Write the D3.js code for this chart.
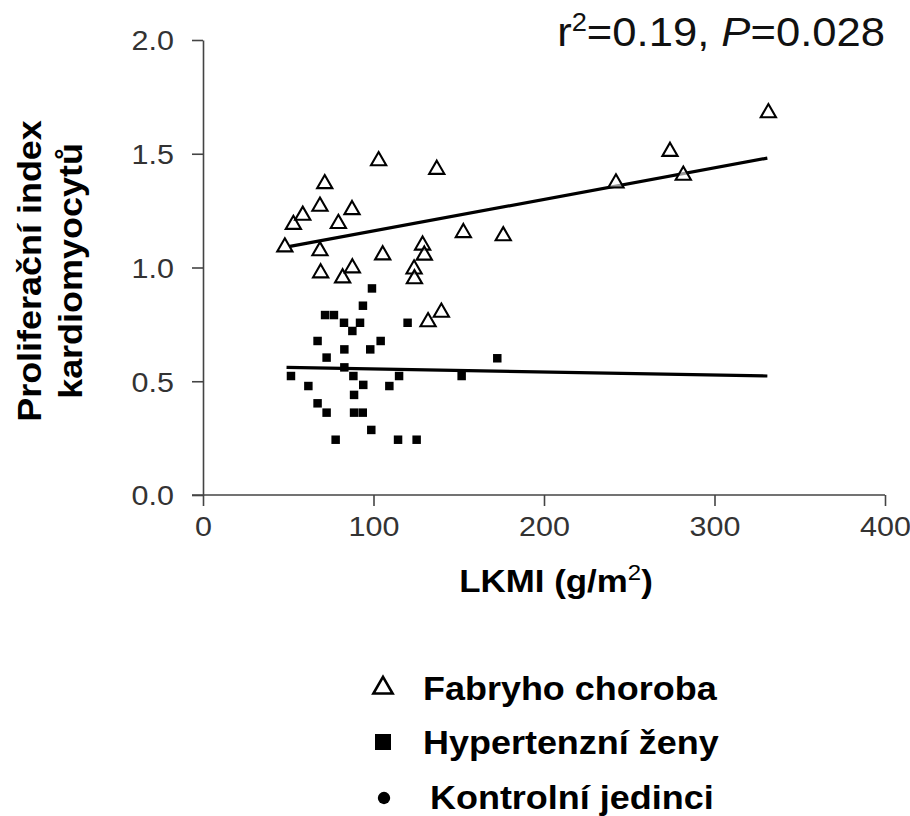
<!DOCTYPE html>
<html>
<head>
<meta charset="utf-8">
<script src="https://cdn.jsdelivr.net/npm/d3@7"></script>
<style>
  html, body { margin: 0; padding: 0; background: #fff; }
  svg { display: block; }
</style>
</head>
<body>
<svg id="chart" width="910" height="816"></svg>
<script>
// Fabry disease (open triangles): [LKMI, index]
const fabryX = [48, 53, 58.5, 68.6, 71.4, 68.6, 69, 79.4, 87.4, 81.9, 87.6, 103, 105.4, 137.1, 128.8, 129.8, 123.8, 124, 152.7, 176.1, 132, 139.8, 242.2, 273.9, 281.7, 331.6];
const fabryY = [1.09, 1.189, 1.229, 1.269, 1.368, 1.073, 0.976, 1.193, 1.254, 0.954, 0.998, 1.469, 1.055, 1.431, 1.098, 1.054, 0.993, 0.95, 1.153, 1.139, 0.761, 0.803, 1.371, 1.51, 1.405, 1.68];
// Hypertensive women (filled squares)
const hyperX = [99.1, 93.8, 71.6, 76.8, 82.7, 92.1, 87.6, 120, 67.2, 104.2, 82.9, 98.1, 72.5, 172.6, 82.9, 51.6, 88.2, 115, 151.7, 61.8, 94, 109.3, 88.6, 67.2, 72.5, 88.6, 93.7, 98.7, 77.8, 114.4, 125.3];
const hyperY = [0.908, 0.832, 0.791, 0.791, 0.757, 0.757, 0.721, 0.757, 0.677, 0.677, 0.64, 0.64, 0.604, 0.601, 0.561, 0.523, 0.523, 0.523, 0.523, 0.479, 0.484, 0.479, 0.44, 0.403, 0.362, 0.362, 0.362, 0.286, 0.243, 0.243, 0.243];
// Regression lines (endpoints)
const fabryLineX = [51, 331];
const fabryLineY = [1.093, 1.481];
const hyperLineX = [49, 331];
const hyperLineY = [0.561, 0.523];
// Axes
const xTicks = [0, 100, 200, 300, 400];
const yTicks = [0, 0.5, 1.0, 1.5, 2.0];
const legendLabels = ["Fabryho choroba", "Hypertenzní ženy", "Kontrolní jedinci"];

const FONT = "Liberation Sans, Arial, sans-serif";
const SX = 1.09; // horizontal stretch of the reference lettering

const svg = d3.select("#chart");
const x = d3.scaleLinear().domain([0, 400]).range([203, 885]);
const y = d3.scaleLinear().domain([0, 2]).range([495, 40]);

// Y axis
const yAxis = d3.axisLeft(y).tickValues(yTicks).tickFormat(d3.format(".1f")).tickSize(11).tickSizeOuter(0).tickPadding(18);
const gy = svg.append("g").attr("transform", `translate(${x(0)},0)`).call(yAxis);
gy.select(".domain").attr("stroke", "#444").attr("stroke-width", 1.6);
gy.selectAll(".tick line").attr("stroke", "#444").attr("stroke-width", 1.6);
gy.selectAll(".tick text").attr("font-family", FONT).attr("font-size", 28).attr("fill", "#333")
  .attr("x", null).attr("dy", "0.35em").attr("transform", `translate(-29,0) scale(${SX},1)`);

// X axis
const xAxis = d3.axisBottom(x).tickValues(xTicks).tickFormat(d3.format("d")).tickSize(11).tickSizeOuter(0).tickPadding(8);
const gx = svg.append("g").attr("transform", `translate(0,${y(0)})`).call(xAxis);
gx.select(".domain").attr("stroke", "#444").attr("stroke-width", 1.6).attr("d", `M${x(0)-11},0H${x(400)}`);
gx.selectAll(".tick line").attr("stroke", "#444").attr("stroke-width", 1.6);
gx.selectAll(".tick text").attr("font-family", FONT).attr("font-size", 28).attr("fill", "#333")
  .attr("y", null).attr("dy", "0.8em").attr("transform", `translate(0,19) scale(${SX},1)`);

// Regression lines
const line = d3.line().x(d => x(d[0])).y(d => y(d[1]));
svg.append("path").datum(d3.zip(fabryLineX, fabryLineY)).attr("d", line).attr("stroke", "#000").attr("stroke-width", 3.2).attr("fill", "none");
svg.append("path").datum(d3.zip(hyperLineX, hyperLineY)).attr("d", line).attr("stroke", "#000").attr("stroke-width", 3.2).attr("fill", "none");

// Squares
const sq = d3.symbol().type(d3.symbolSquare).size(72);
svg.append("g").selectAll("path").data(d3.zip(hyperX, hyperY)).join("path")
  .attr("d", sq).attr("transform", d => `translate(${x(d[0])},${y(d[1])})`).attr("fill", "#000");

// Triangles
const tri = d3.symbol().type(d3.symbolTriangle).size(100);
svg.append("g").selectAll("path").data(d3.zip(fabryX, fabryY)).join("path")
  .attr("d", tri).attr("transform", d => `translate(${x(d[0])},${y(d[1])})`)
  .attr("fill", "#fff").attr("fill-opacity", 0.6).attr("stroke", "#000").attr("stroke-width", 2.1);

// Annotation
const ann = svg.append("text").attr("transform", `translate(885,46) scale(${SX},1)`).attr("text-anchor", "end")
  .attr("font-family", FONT).attr("font-size", 40).attr("fill", "#111");
ann.append("tspan").text("r");
ann.append("tspan").text("2").attr("font-size", 25).attr("dy", -15);
ann.append("tspan").text("=0.19, ").attr("dy", 15);
ann.append("tspan").text("P").attr("font-style", "italic");
ann.append("tspan").text("=0.028");

// Axis titles
const xt = svg.append("text").attr("transform", `translate(556,592) scale(${SX},1)`).attr("text-anchor", "middle")
  .attr("font-family", FONT).attr("font-weight", "bold").attr("font-size", 32).attr("fill", "#000");
xt.append("tspan").text("LKMI (g/m");
xt.append("tspan").text("2").attr("font-size", 22).attr("dy", -12).attr("font-weight", "normal");
xt.append("tspan").text(")").attr("dy", 12);

const yt = svg.append("g").attr("transform", "translate(0,271) rotate(-90)");
yt.append("text").attr("transform", `translate(0,41) scale(${SX},1)`).attr("text-anchor", "middle")
  .attr("font-family", FONT).attr("font-weight", "bold").attr("font-size", 33).text("Proliferační index");
yt.append("text").attr("transform", `translate(0,82) scale(${SX},1)`).attr("text-anchor", "middle")
  .attr("font-family", FONT).attr("font-weight", "bold").attr("font-size", 33).text("kardiomyocytů");

// Legend
const lg = svg.append("g");
const ly = [688, 742, 797];
lg.append("path").attr("d", d3.symbol().type(d3.symbolTriangle).size(160)()).attr("transform", `translate(383,${ly[0]})`)
  .attr("fill", "none").attr("stroke", "#000").attr("stroke-width", 2.6);
lg.append("path").attr("d", d3.symbol().type(d3.symbolSquare).size(256)()).attr("transform", `translate(383,${ly[1]})`).attr("fill", "#000");
lg.append("path").attr("d", d3.symbol().type(d3.symbolCircle).size(120)()).attr("transform", `translate(384,${ly[2]+1})`).attr("fill", "#000");
lg.selectAll("text").data(legendLabels).join("text")
  .attr("transform", (d, i) => `translate(${i === 2 ? 430 : 423},${ly[i] + 12}) scale(${SX},1)`)
  .attr("font-family", FONT).attr("font-weight", "bold").attr("font-size", 33).attr("fill", "#000")
  .text(d => d);
</script>
</body>
</html>
